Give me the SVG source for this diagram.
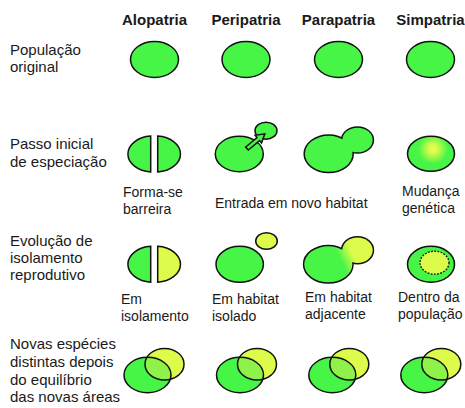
<svg xmlns="http://www.w3.org/2000/svg" width="465" height="408" viewBox="0 0 465 408">
<style>
text{font-family:"Liberation Sans",Arial,sans-serif;fill:#1a1a1a}
.hd{font-size:15px;font-weight:bold;text-anchor:middle}
.lb{font-size:15px}
.sm{font-size:14px}
.g{fill:#46f546;stroke:#111;stroke-width:1.5}
.y{fill:#dcfb4a;stroke:#111;stroke-width:1.5}
.ol{fill:none;stroke:#111;stroke-width:1.5}
.under{fill:none;stroke:#111;stroke-width:3}
</style>
<defs>
<radialGradient id="gen" gradientUnits="userSpaceOnUse" cx="433" cy="149" r="15">
<stop offset="0" stop-color="#eaff52"/>
<stop offset="0.3" stop-color="#d6fb4c"/>
<stop offset="1" stop-color="#46f546"/>
</radialGradient>
<linearGradient id="adj" gradientUnits="userSpaceOnUse" x1="339" y1="257" x2="351" y2="251">
<stop offset="0" stop-color="#46f546"/>
<stop offset="1" stop-color="#dcfb4a"/>
</linearGradient>
<clipPath id="yclip"><ellipse cx="164.5" cy="364.2" rx="19.5" ry="15.8"/></clipPath>
<g id="venn">
<ellipse cx="147.5" cy="375" rx="23.5" ry="17.7" fill="#46f546"/>
<ellipse cx="164.5" cy="364.2" rx="19.5" ry="15.8" fill="#dcfb4a"/>
<ellipse cx="147.5" cy="375" rx="23.5" ry="17.7" fill="#8ff24a" clip-path="url(#yclip)"/>
<ellipse cx="147.5" cy="375" rx="23.5" ry="17.7" class="ol"/>
<ellipse cx="164.5" cy="364.2" rx="19.5" ry="15.8" class="ol"/>
</g>
</defs>

<g id="headers">
<text class="hd" x="154.5" y="24.5">Alopatria</text>
<text class="hd" x="246" y="24.5">Peripatria</text>
<text class="hd" x="338.5" y="24.5">Parapatria</text>
<text class="hd" x="430.5" y="24.5">Simpatria</text>
</g>

<g id="row-labels">
<text class="lb" x="10" y="54.5">População</text>
<text class="lb" x="10" y="72">original</text>
<text class="lb" x="10" y="149.3">Passo inicial</text>
<text class="lb" x="10" y="166.5">de especiação</text>
<text class="lb" x="10" y="245.5">Evolução de</text>
<text class="lb" x="10" y="262.8">isolamento</text>
<text class="lb" x="10" y="280">reprodutivo</text>
<text class="lb" x="10" y="349">Novas espécies</text>
<text class="lb" x="10" y="366.7">distintas depois</text>
<text class="lb" x="10" y="384.5">do equilíbrio</text>
<text class="lb" x="10" y="402.2">das novas áreas</text>
</g>

<g id="original-populations">
<ellipse class="g" cx="154.5" cy="59.5" rx="24" ry="18"/>
<ellipse class="g" cx="246" cy="59.5" rx="24" ry="18"/>
<ellipse class="g" cx="338.5" cy="59.5" rx="24" ry="18"/>
<ellipse class="g" cx="430.5" cy="59.5" rx="24" ry="18"/>
</g>

<g id="alo-step">
<path class="g" d="M150.7,136.07 A25,18 0 0 0 150.7,171.93 Z"/>
<path class="g" d="M157.7,136.07 A25,18 0 0 1 157.7,171.93 Z"/>
<text class="sm" x="123" y="197">Forma-se</text>
<text class="sm" x="123" y="214">barreira</text>
</g>

<g id="peri-step">
<ellipse class="g" cx="239.3" cy="154" rx="24" ry="17.7"/>
<ellipse class="g" cx="266" cy="130.7" rx="11" ry="8.5"/>
<polygon class="g" stroke-linejoin="miter" points="248.3,150 259.6,140.6 261.5,143 264.8,133.8 255.1,135.2 257,137.6 245.7,147"/>
</g>

<g id="para-step">
<ellipse class="under" cx="328.7" cy="153.8" rx="23.8" ry="18"/>
<ellipse class="under" cx="357.5" cy="140" rx="15.2" ry="12.3"/>
<ellipse fill="#46f546" cx="328.7" cy="153.8" rx="23.8" ry="18"/>
<ellipse fill="#46f546" cx="357.5" cy="140" rx="15.2" ry="12.3"/>
</g>

<text id="entry-label" class="sm" x="215" y="207.5">Entrada em novo habitat</text>

<g id="sim-step">
<ellipse cx="431" cy="153.8" rx="23.5" ry="17.5" fill="url(#gen)" stroke="#111" stroke-width="1.5"/>
<text class="sm" x="402" y="195.5">Mudança</text>
<text class="sm" x="402" y="212.5">genética</text>
</g>

<g id="alo-iso">
<path class="g" d="M150.7,246.37 A25,18 0 0 0 150.7,282.23 Z"/>
<path class="y" d="M157.7,246.37 A25,18 0 0 1 157.7,282.23 Z"/>
<text class="sm" x="121" y="304">Em</text>
<text class="sm" x="121" y="321">isolamento</text>
</g>

<g id="peri-iso">
<ellipse class="g" cx="239.7" cy="264.3" rx="23.7" ry="18"/>
<ellipse class="y" cx="266.5" cy="241" rx="10.8" ry="8.3"/>
<text class="sm" x="212" y="304">Em habitat</text>
<text class="sm" x="212" y="321">isolado</text>
</g>

<g id="para-iso">
<ellipse class="under" cx="328.3" cy="264.3" rx="24" ry="18"/>
<ellipse class="under" cx="357.5" cy="250.3" rx="15.2" ry="12.8"/>
<ellipse fill="url(#adj)" cx="328.3" cy="264.3" rx="24" ry="18"/>
<ellipse fill="url(#adj)" cx="357.5" cy="250.3" rx="15.2" ry="12.8"/>
<text class="sm" x="305" y="302">Em habitat</text>
<text class="sm" x="305" y="319">adjacente</text>
</g>

<g id="sim-iso">
<ellipse class="g" cx="431" cy="264.3" rx="23.5" ry="18"/>
<ellipse cx="434.5" cy="262.7" rx="14.5" ry="11.5" fill="#dcfb4a" stroke="#111" stroke-width="1.3" stroke-dasharray="1.8,1.4"/>
<text class="sm" x="398" y="302">Dentro da</text>
<text class="sm" x="398" y="319">população</text>
</g>

<g id="new-species">
<use href="#venn"/>
<use href="#venn" transform="translate(92.5,0)"/>
<use href="#venn" transform="translate(184.8,0)"/>
<use href="#venn" transform="translate(276.8,0)"/>
</g>
</svg>
